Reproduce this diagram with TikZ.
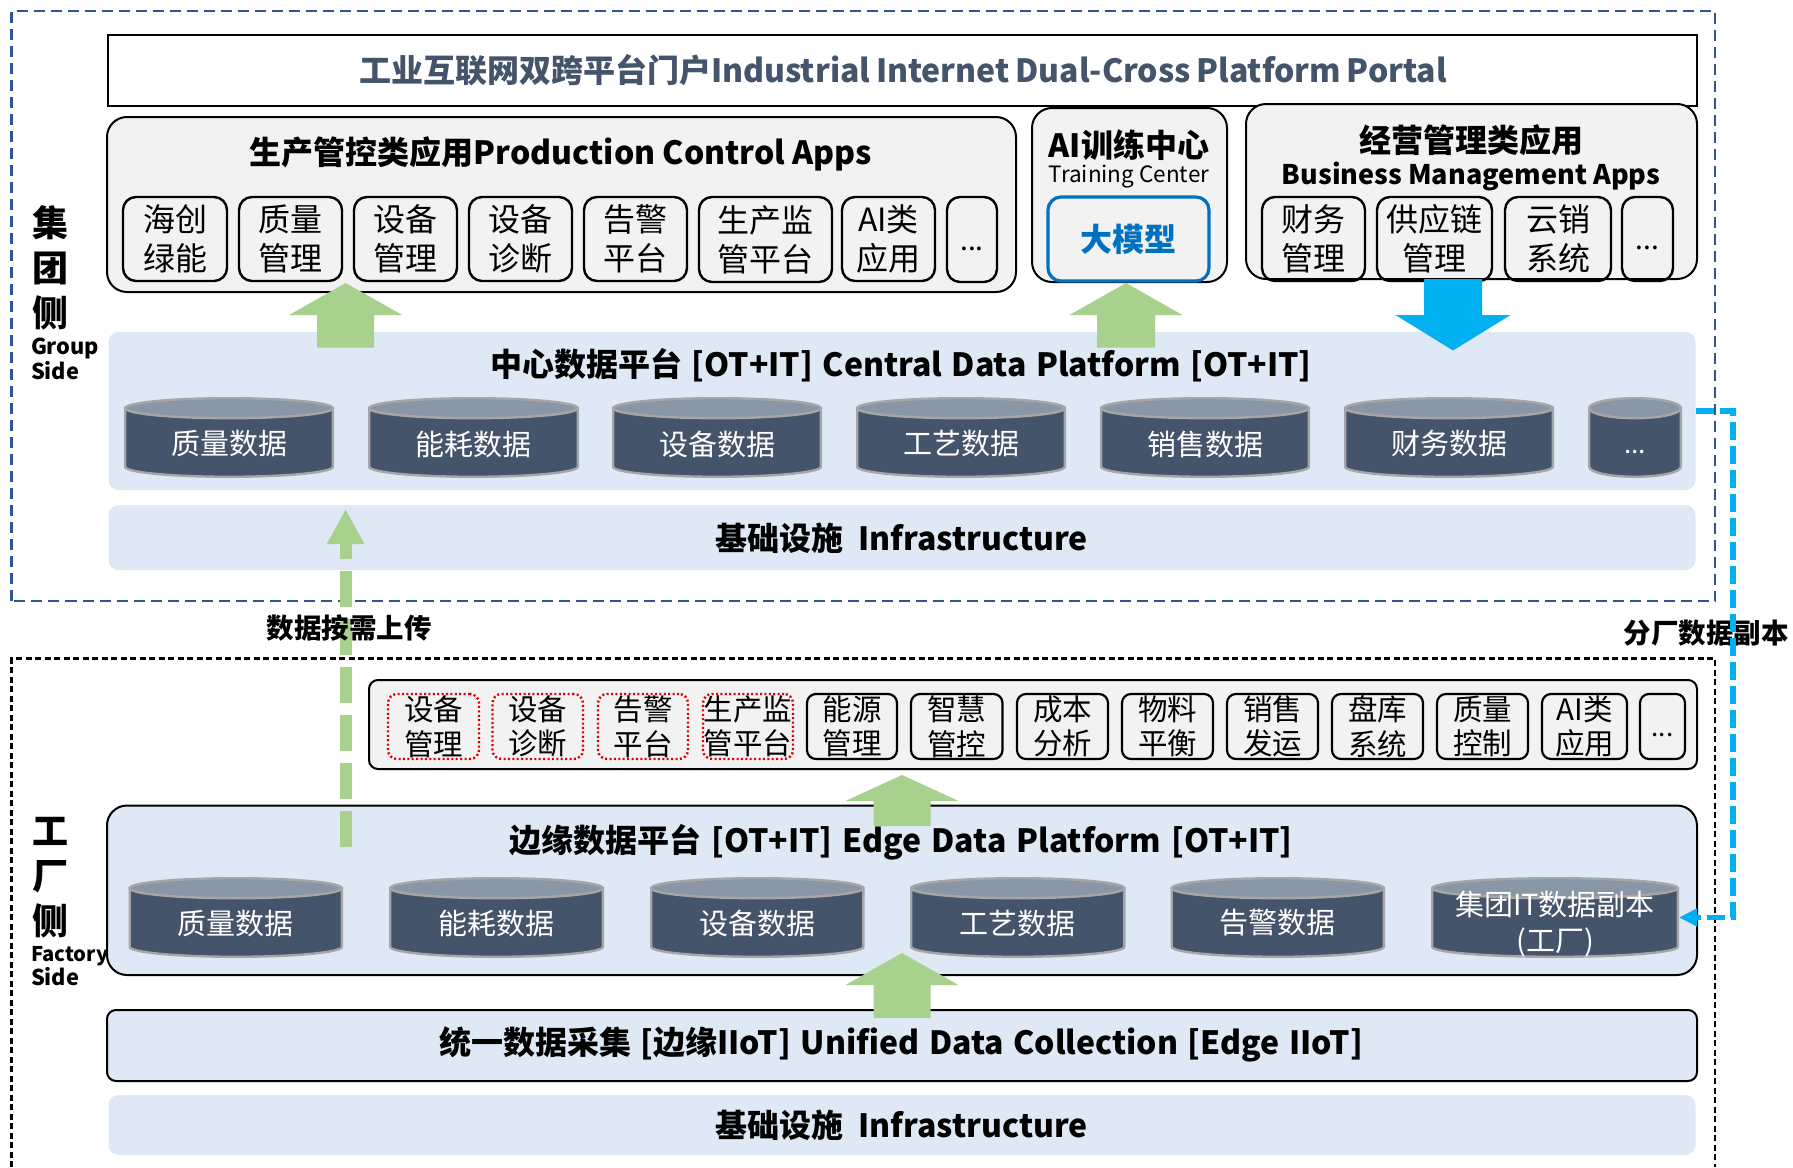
\documentclass[tikz,border=0pt]{standalone}
\usepackage{fontspec}
\setmainfont{Noto Sans CJK SC}
\usetikzlibrary{arrows.meta}
\definecolor{navy}{HTML}{2F5597}
\definecolor{slate}{HTML}{44546A}
\definecolor{topc}{HTML}{8896A6}
\definecolor{edgec}{HTML}{A6A6A6}
\definecolor{lightb}{HTML}{DEE9F5}
\definecolor{panelg}{HTML}{F2F2F2}
\definecolor{gr}{HTML}{A9D18E}
\definecolor{cy}{HTML}{00B0F0}
\definecolor{bl}{HTML}{0070C0}
\newcommand\fsz[2]{\fontsize{#1}{#2}\selectfont}
\tikzset{
  x=1pt,y=-1pt,
  every node/.style={inner sep=0pt,outer sep=0pt},
  panel/.style={draw=black,line width=2pt,fill=panelg,rounded corners=20pt},
  appbox/.style={draw=black,line width=2.4pt,rounded corners=13pt},
  smallapp/.style={draw=black,line width=2.2pt,rounded corners=9pt},
  redapp/.style={draw=red!85!black,line width=2.4pt,dash pattern=on 2pt off 2.4pt,rounded corners=9pt},
  aibox/.style={draw=bl,line width=3.2pt,rounded corners=13pt},
  plainband/.style={fill=lightb,rounded corners=10pt},
  linedband/.style={draw=black,line width=2pt,fill=lightb,rounded corners=#1},
  ttl/.style={font=\bfseries\fsz{32}{38},text=black},
  apptxt/.style={font=\fsz{32}{39},align=center},
  smalltxt/.style={font=\fsz{29.5}{34.5},align=center},
  cyltxt/.style={font=\fsz{29}{36},text=white,align=center},
  sidecn/.style={font=\bfseries\fsz{36}{45},align=center},
  sideen/.style={font=\bfseries\fsz{21.8}{24.5},align=left,anchor=north west},
  note/.style={font=\bfseries\fsz{27.5}{32}},
}
% rectangular node given by its corners
\newcommand\bx[6]{%
  \pgfmathsetmacro\bxw{#4-#2}\pgfmathsetmacro\bxh{#5-#3}%
  \pgfmathsetmacro\bxcx{(#2+#4)/2}\pgfmathsetmacro\bxcy{(#3+#5)/2}%
  \node[#6,minimum width=\bxw pt,minimum height=\bxh pt] (#1) at (\bxcx,\bxcy) {};}
% application box with text
\newcommand\app[8]{\bx{#1}{#2}{#3}{#4}{#5}{#6}\node[#7] (#1-t) at (#1) {#8};}
% database cylinder: name,x1,y1,x2,y2,text y,text
\newcommand\cyl[7]{%
  \pgfmathsetmacro\cxa{#2+1.2}\pgfmathsetmacro\cxb{#4-1.2}%
  \pgfmathsetmacro\cya{#3+1.2}\pgfmathsetmacro\cyz{#5-1.2}%
  \pgfmathsetmacro\cyx{(#2+#4)/2}\pgfmathsetmacro\cyrx{(\cxb-\cxa)/2}%
  \pgfmathsetmacro\cyry{10}\pgfmathsetmacro\cykx{0.5523*\cyrx}\pgfmathsetmacro\cyky{0.5523*\cyry}%
  \pgfmathsetmacro\cyt{\cya+\cyry}\pgfmathsetmacro\cyb{\cyz-\cyry}%
  \pgfmathsetmacro\cybk{\cyb+\cyky}%
  \pgfmathsetmacro\cyla{\cyx-\cykx}\pgfmathsetmacro\cylb{\cyx+\cykx}%
  \draw[edgec,line width=2.4pt,fill=slate] (\cxa,\cyt) -- (\cxa,\cyb) .. controls (\cxa,\cybk) and (\cyla,\cyz) .. (\cyx,\cyz) .. controls (\cylb,\cyz) and (\cxb,\cybk) .. (\cxb,\cyb) -- (\cxb,\cyt) -- cycle;
  \draw[edgec,line width=2.4pt,fill=topc] (\cyx,\cyt) ellipse [x radius=\cyrx,y radius=\cyry];
  \bx{#1}{#2}{#3}{#4}{#5}{}%
  \node[cyltxt] (#1-t) at (\cyx,#6) {#7};}
% block arrow: name,cx,tip,head base,tail,half head,half shaft,colour
\newcommand\blockarrow[8]{%
  \pgfmathsetmacro\baha{#2-#6}\pgfmathsetmacro\bahb{#2+#6}%
  \pgfmathsetmacro\basa{#2-#7}\pgfmathsetmacro\basb{#2+#7}%
  \fill[#8] (#2,#3) -- (\bahb,#4) -- (\basb,#4) -- (\basb,#5) -- (\basa,#5) -- (\basa,#4) -- (\baha,#4) -- cycle;}
\newcommand\ellip{\vphantom{字}...}
\begin{document}
\begin{tikzpicture}
\useasboundingbox (0,0) rectangle (1793,1167);
\fill[white] (0,0) rectangle (1793,1167);

% outer frames
\draw[navy,line width=2.4pt,dash pattern=on 11pt off 6pt] (11.5,601) rectangle (1715,11);
\draw[black,line width=2.2pt,dash pattern=on 6pt off 3.5pt] (11.5,1167) -- (11.5,658.5) -- (1715,658.5) -- (1715,1167);

% portal
\bx{portal}{108}{35}{1697}{106}{draw=black,line width=2pt,fill=white}
\node[ttl,text=slate] (portal-t) at (903,70) {\spaceskip=5.8pt 工业互联网双跨平台门户Industrial Internet Dual-Cross Platform Portal};

% production apps
\bx{prod}{107}{117}{1016}{292}{panel}
\node[ttl] (prod-t) at (561,154) {生产管控类应用Production Control Apps};
\app{a1}{123}{197}{227}{281}{appbox}{apptxt}{海创\\绿能}
\app{a2}{239}{197}{342}{281}{appbox}{apptxt}{质量\\管理}
\app{a3}{354}{197}{457}{281}{appbox}{apptxt}{设备\\管理}
\app{a4}{469}{197}{572}{281}{appbox}{apptxt}{设备\\诊断}
\app{a5}{584}{197}{687}{281}{appbox}{apptxt}{告警\\平台}
\app{a6}{699}{197}{832}{282}{appbox}{apptxt}{生产监\\管平台}
\app{a7}{842}{197}{935}{281}{appbox}{apptxt}{AI类\\应用}
\app{a8}{947}{197}{997}{282}{appbox}{font=\fsz{28}{34}}{\ellip}

% AI centre
\bx{ai}{1032}{108}{1227}{282}{panel}
\node[ttl] (ai-t) at (1129,145) {AI训练中心};
\node[font=\fsz{22.5}{28}] (ai-en) at (1129,177) {Training Center};
\app{llm}{1048}{197}{1209}{281}{aibox}{font=\bfseries\fsz{32}{38},text=bl}{大模型}

% business apps
\bx{biz}{1246}{104}{1697}{279}{panel}
\node[ttl] (biz-t) at (1471,140) {经营管理类应用};
\node[font=\bfseries\fsz{27}{32}] (biz-en) at (1471,177) {Business Management Apps};
\app{b1}{1262}{197}{1365}{281}{appbox}{apptxt}{财务\\管理}
\app{b2}{1377}{197}{1492}{281}{appbox}{apptxt}{供应链\\管理}
\app{b3}{1505}{197}{1611}{281}{appbox}{apptxt}{云销\\系统}
\app{b4}{1622}{197}{1673}{281}{appbox}{font=\fsz{28}{34}}{\ellip}

% central data platform
\bx{central}{108.5}{332}{1695.5}{490}{plainband}
\node[ttl] (central-t) at (901,365.5) {\spaceskip=9.5pt 中心数据平台 [OT+IT] Central Data Platform [OT+IT]};
\cyl{c1}{124}{397}{334}{478}{444}{质量数据}
\cyl{c2}{368}{397}{579}{478}{444}{能耗数据}
\cyl{c3}{612}{397}{822}{478}{444}{设备数据}
\cyl{c4}{856}{397}{1066}{478}{444}{工艺数据}
\cyl{c5}{1100}{397}{1310}{478}{444}{销售数据}
\cyl{c6}{1344}{397}{1554}{478}{444}{财务数据}
\cyl{c7}{1588}{397}{1682}{478}{444}{\fsz{26}{30}\ellip}

% arrows of the group side
\blockarrow{up1}{345.6}{283}{315}{347.5}{56.5}{28.5}{gr}
\blockarrow{up2}{1126}{283}{315}{347.5}{56.5}{29}{gr}
\blockarrow{dn1}{1453}{350.5}{315}{279}{57.5}{29}{cy}

% infrastructure, group
\bx{infra1}{108.5}{505}{1695.5}{570}{plainband}
\node[ttl] (infra1-t) at (901.5,538) {\spaceskip=7.8pt 基础设施\ \ Infrastructure};

% factory apps
\bx{fapps}{369}{680}{1697}{769}{draw=black,line width=2pt,fill=panelg,rounded corners=9pt}
\app{f1}{388}{694}{479}{759}{redapp}{smalltxt}{设备\\管理}
\app{f2}{492.5}{694}{583}{759}{redapp}{smalltxt}{设备\\诊断}
\app{f3}{598}{694}{688}{759}{redapp}{smalltxt}{告警\\平台}
\app{f4}{703}{694}{793}{759}{redapp}{smalltxt}{生产监\\管平台}
\app{f5}{807}{694}{897}{759}{smallapp}{smalltxt}{能源\\管理}
\app{f6}{911}{694}{1002.5}{759}{smallapp}{smalltxt}{智慧\\管控}
\app{f7}{1017}{694}{1108}{759}{smallapp}{smalltxt}{成本\\分析}
\app{f8}{1122}{694}{1213}{759}{smallapp}{smalltxt}{物料\\平衡}
\app{f9}{1227}{694}{1318}{759}{smallapp}{smalltxt}{销售\\发运}
\app{f10}{1332}{694}{1423}{759}{smallapp}{smalltxt}{盘库\\系统}
\app{f11}{1437}{694}{1528}{759}{smallapp}{smalltxt}{质量\\控制}
\app{f12}{1542}{694}{1627}{759}{smallapp}{smalltxt}{AI类\\应用}
\app{f13}{1640}{694}{1685}{759}{smallapp}{font=\fsz{26}{30}}{\ellip}

% edge data platform
\bx{edge}{107}{805.5}{1697}{975}{linedband=20pt}
\node[ttl] (edge-t) at (901,842) {\spaceskip=10pt 边缘数据平台 [OT+IT] Edge Data Platform [OT+IT]};
\cyl{e1}{128.5}{877}{343}{958}{923}{质量数据}
\cyl{e2}{389}{877}{604}{958}{923}{能耗数据}
\cyl{e3}{650}{877}{864.5}{958}{923}{设备数据}
\cyl{e4}{910}{877}{1125.5}{958}{923}{工艺数据}
\cyl{e5}{1170.5}{877}{1385}{958}{923}{告警数据}
\cyl{e6}{1431}{877}{1679}{958}{924}{集团IT数据副本\\(工厂)}
\blockarrow{up3}{902}{775}{801}{826}{56.5}{28.5}{gr}

% unified collection
\bx{unified}{107}{1010}{1697}{1081}{linedband=9pt}
\node[ttl] (unified-t) at (901,1044) {\spaceskip=9.5pt 统一数据采集 [边缘IIoT] Unified Data Collection [Edge IIoT]};
\blockarrow{up4}{902}{953}{985}{1018}{56.5}{28.5}{gr}

% infrastructure, factory
\bx{infra2}{108.5}{1095}{1695.5}{1155}{plainband}
\node[ttl] (infra2-t) at (901.5,1125) {\spaceskip=7.8pt 基础设施\ \ Infrastructure};

% side labels
\node[sidecn] (gside) at (50,268) {集\\团\\侧};
\node[sideen] (gsideen) at (31,338) {Group\\Side};
\node[sidecn] (fside) at (50,878) {工\\厂\\侧};
\node[sideen] (fsideen) at (31,946) {{\fsz{20.2}{24.5}Factory}\\Side};

% on-demand upload
\coordinate (upstart) at (345.6,847);
\coordinate (uptip) at (345.6,509);
\draw[gr,line width=12pt,dash pattern=on 36pt off 12pt,-{Triangle[length=35pt,width=35pt]}] (upstart) -- (uptip);
\node[note] (upnote) at (349,628) {数据按需上传};

% factory copy
\node[note] (copynote) at (1706,633.5) {分厂数据副本};
\coordinate (copyturn) at (1733,700);
\draw[cy,line width=5.5pt,dash pattern=on 18pt off 6pt,-{Triangle[length=18pt,width=17pt]}] (central.east) -- (copyturn |- central.east) -- (copyturn |- e6.east) -- (e6.east);
\end{tikzpicture}
\end{document}
